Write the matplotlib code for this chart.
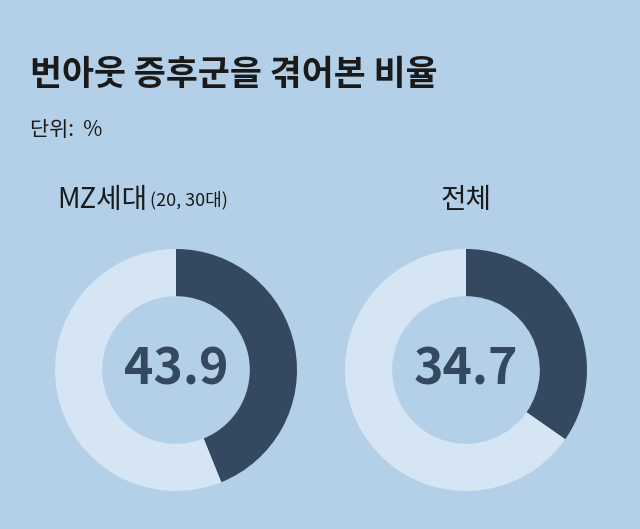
import matplotlib.pyplot as plt

plt.rcParams['font.family'] = ['Noto Sans CJK KR', 'DejaVu Sans']

title = "번아웃 증후군을 겪어본 비율"
unit = "단위:  %"
groups = ["MZ세대", "전체"]
values = [43.9, 34.7]

bg = "#b4d0e8"
dark = "#34495f"
light = "#d5e5f3"

W, H = 640, 529
fig = plt.figure(figsize=(6.4, 5.29), dpi=100)
fig.patch.set_facecolor(bg)

fig.text(30 / W, 1 - 75 / H, title, fontsize=25, fontweight="bold", color="#1a1a1a", va="center")
fig.text(30 / W, 1 - 130 / H, unit, fontsize=15, color="#1a1a1a", va="center")
fig.text(57 / W, 1 - 200 / H, groups[0], fontsize=20, fontweight="medium", color="#1a1a1a", va="center")
fig.text(150 / W, 1 - 200 / H, "(20, 30대)", fontsize=13, color="#1a1a1a", va="center")
fig.text(466 / W, 1 - 200 / H, groups[1], fontsize=20, fontweight="medium", color="#1a1a1a", va="center", ha="center")

lefts = [55, 345]
size = 242
for left, v in zip(lefts, values):
    ax = fig.add_axes([left / W, 38 / H, size / W, size / H])
    ax.pie([v, 100 - v], colors=[dark, light], startangle=90, counterclock=False,
           radius=1, wedgeprops=dict(width=0.39, edgecolor="none"))
    ax.text(0, 0, f"{v}", ha="center", va="center", fontsize=36, fontweight="bold", color=dark)
    ax.set_xlim(-1, 1)
    ax.set_ylim(-1, 1)
    ax.set_aspect("equal")
    ax.set_facecolor(bg)

fig.savefig("out.png", dpi=100, facecolor=bg)
